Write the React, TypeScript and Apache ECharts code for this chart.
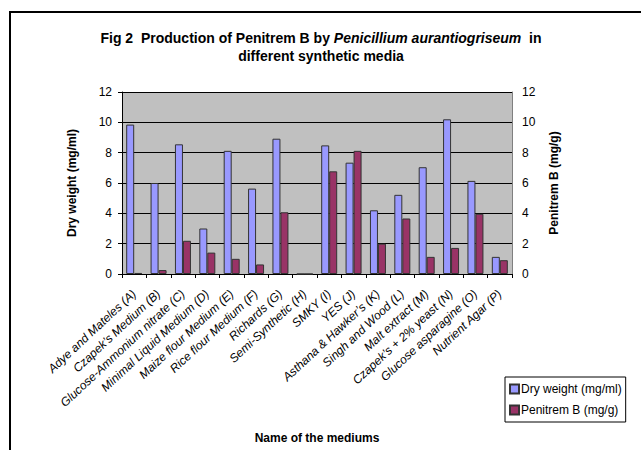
import React, { useEffect, useRef } from "react";
import * as echarts from "echarts";

const categories = [
  "Adye and Mateles (A)",
  "Czapek’s Medium (B)",
  "Glucose-Ammonium nitrate (C)",
  "Minimal Liquid Medium (D)",
  "Maize flour Medium (E)",
  "Rice flour Medium (F)",
  "Richards (G)",
  "Semi-Synthetic (H)",
  "SMKY (I)",
  "YES (J)",
  "Asthana & Hawker’s (K)",
  "Singh and Wood (L)",
  "Malt extract (M)",
  "Czapek’s + 2% yeast (N)",
  "Glucose asparagine (O)",
  "Nutrient Agar (P)",
];

const dryWeight = [9.85, 6.0, 8.55, 3.0, 8.12, 5.63, 8.92, 0, 8.48, 7.34, 4.2, 5.22, 7.04, 10.2, 6.14, 1.13];
const penitremB = [0.07, 0.26, 2.19, 1.41, 1.0, 0.63, 4.07, 0, 6.77, 8.12, 2.0, 3.66, 1.13, 1.72, 3.97, 0.91];

const FONT = "Liberation Sans, Arial, sans-serif";

export default function App() {
  const ref = useRef<HTMLDivElement>(null);
  useEffect(() => {
    if (!ref.current) return;
    const chart = echarts.init(ref.current, null, { renderer: "svg" });
    chart.setOption({
      animation: false,
      backgroundColor: "#ffffff",
      textStyle: { fontFamily: FONT },
      title: {
        left: 316,
        textAlign: "center",
        top: 24,
        text: "{b|Fig 2  Production of Penitrem B by }{bi|Penicillium aurantiogriseum}{b|  in}\n{b|different synthetic media}",
        textStyle: {
          rich: {
            b: { fontFamily: FONT, fontSize: 14, fontWeight: "bold", color: "#000", lineHeight: 18 },
            bi: { fontFamily: FONT, fontSize: 14, fontWeight: "bold", fontStyle: "italic", color: "#000", lineHeight: 18 },
          },
        },
      },
      graphic: [
        {
          type: "rect",
          shape: { x: 10, y: 12, width: 700, height: 600 },
          style: { fill: "none", stroke: "#000", lineWidth: 2 },
          silent: true,
        },
      ],
      legend: {
        orient: "vertical",
        left: 505,
        top: 377,
        width: 127,
        padding: [6, 4, 6, 4],
        itemGap: 9,
        itemWidth: 9,
        itemHeight: 9,
        icon: "rect",
        borderColor: "#000",
        borderWidth: 1,
        backgroundColor: "#fff",
        textStyle: { fontFamily: FONT, fontSize: 12, color: "#000", padding: [0, 0, 0, -3] },
        data: ["Dry weight (mg/ml)", "Penitrem B (mg/g)"],
      },
      grid: { left: 122, right: 129, top: 92, bottom: 176, backgroundColor: "#c0c0c0", show: true, borderWidth: 0 },
      xAxis: {
        type: "category",
        data: categories,
        name: "Name of the mediums",
        nameLocation: "middle",
        nameGap: 158,
        nameTextStyle: { fontFamily: FONT, fontSize: 12, fontWeight: "bold", color: "#000" },
        axisLine: { lineStyle: { color: "#000", width: 1 } },
        axisTick: { show: true, length: 4, lineStyle: { color: "#000" }, interval: 0 },
        axisLabel: {
          interval: 0,
          rotate: 43,
          margin: 18,
          fontFamily: FONT,
          fontSize: 12,
          fontStyle: "italic",
          color: "#000",
        },
      },
      yAxis: [
        {
          type: "value",
          min: 0,
          max: 12,
          interval: 2,
          name: "Dry weight (mg/ml)",
          nameLocation: "middle",
          nameGap: 44,
          nameTextStyle: { fontFamily: FONT, fontSize: 12, fontWeight: "bold", color: "#000" },
          axisLine: { show: true, lineStyle: { color: "#000", width: 1 } },
          axisTick: { show: true, length: 4, lineStyle: { color: "#000" } },
          axisLabel: { fontFamily: FONT, fontSize: 12, color: "#000", margin: 10 },
          splitLine: { show: true, lineStyle: { color: "#000", width: 1 } },
        },
        {
          type: "value",
          min: 0,
          max: 12,
          interval: 2,
          position: "right",
          name: "Penitrem B (mg/g)",
          nameLocation: "middle",
          nameGap: 36,
          nameRotate: 90,
          nameTextStyle: { fontFamily: FONT, fontSize: 12, fontWeight: "bold", color: "#000" },
          axisLine: { show: true, lineStyle: { color: "#808080", width: 1 } },
          axisTick: { show: false },
          axisLabel: { fontFamily: FONT, fontSize: 12, color: "#000", margin: 10 },
          splitLine: { show: false },
        },
      ],
      series: [
        {
          name: "Dry weight (mg/ml)",
          type: "bar",
          data: dryWeight,
          barWidth: 8,
          barGap: "0%",
          itemStyle: { color: "#9999ff", borderColor: "#333", borderWidth: 1 },
        },
        {
          name: "Penitrem B (mg/g)",
          type: "bar",
          yAxisIndex: 1,
          data: penitremB,
          barWidth: 8,
          barGap: "0%",
          itemStyle: { color: "#993366", borderColor: "#333", borderWidth: 1 },
        },
      ],
    });
    return () => chart.dispose();
  }, []);
  return <div ref={ref} style={{ position: "fixed", left: 0, top: 0, width: 641, height: 450 }} />;
}
